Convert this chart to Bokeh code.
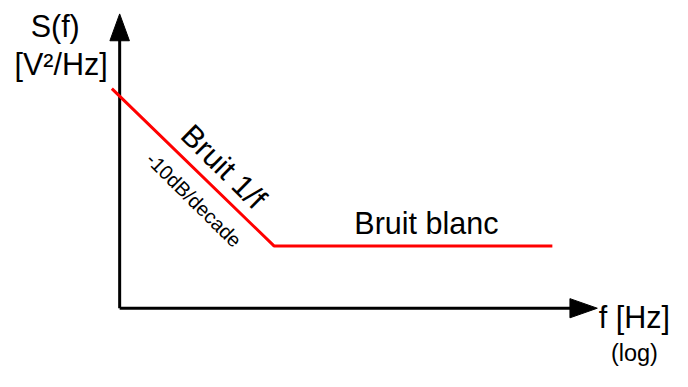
from bokeh.plotting import figure
from bokeh.models import Range1d
from bokeh.core.properties import value
from bokeh.embed import file_html
from bokeh.resources import INLINE
import math

# ---- data (schematic, in reference-image units) ----
origin_x, origin_y = 122, 321          # axes corner
y_axis_top = 14                         # tip of vertical arrow
x_axis_end = 611                        # tip of horizontal arrow
noise_x = [114, 280, 565]               # red noise spectrum
noise_y = [92, 256, 256]

label_text = ["S(f)", "[V²/Hz]", "f [Hz]", "(log)", "Bruit blanc"]
label_x = [56, 62, 649, 649, 436]
label_y = [27, 66, 330, 368, 232]
label_size = ["30.5px", "30.5px", "30.5px", "23.5px", "30.5px"]

slope_text = ["Bruit 1/f", "-10dB/decade"]
slope_x = [229, 198]
slope_y = [173, 208]
slope_size = ["30.5px", "20px"]

FONT = value("Liberation Sans")

p = figure(width=672, height=371, output_backend="svg", toolbar_location=None,
           x_range=Range1d(0, 688), y_range=Range1d(387, 0),
           min_border=0, outline_line_color=None)
p.axis.visible = False
p.grid.visible = False

# axes
p.line([origin_x, origin_x], [origin_y, y_axis_top + 20], line_color="black", line_width=3)
p.line([origin_x, x_axis_end - 20], [origin_y, origin_y], line_color="black", line_width=3)
head_len, head_w = 28, 20
p.patch([origin_x - head_w / 2, origin_x, origin_x + head_w / 2],
        [y_axis_top + head_len, y_axis_top, y_axis_top + head_len], color="black")
p.patch([x_axis_end - head_len, x_axis_end, x_axis_end - head_len],
        [origin_y - head_w / 2, origin_y, origin_y + head_w / 2], color="black")

# noise spectrum
p.line(noise_x, noise_y, line_color="red", line_width=3)

for t, x, y, s in zip(label_text, label_x, label_y, label_size):
    p.text(x=[x], y=[y], text=[t], text_font=FONT, text_font_size=s,
           text_align="center", text_baseline="middle", text_color="black")

ang = -math.atan2(noise_y[1] - noise_y[0], noise_x[1] - noise_x[0])
for t, x, y, s in zip(slope_text, slope_x, slope_y, slope_size):
    p.text(x=[x], y=[y], text=[t], text_font=FONT, text_font_size=s, angle=ang,
           text_align="center", text_baseline="middle", text_color="black")

open("out.html", "w").write(file_html(p, INLINE))
